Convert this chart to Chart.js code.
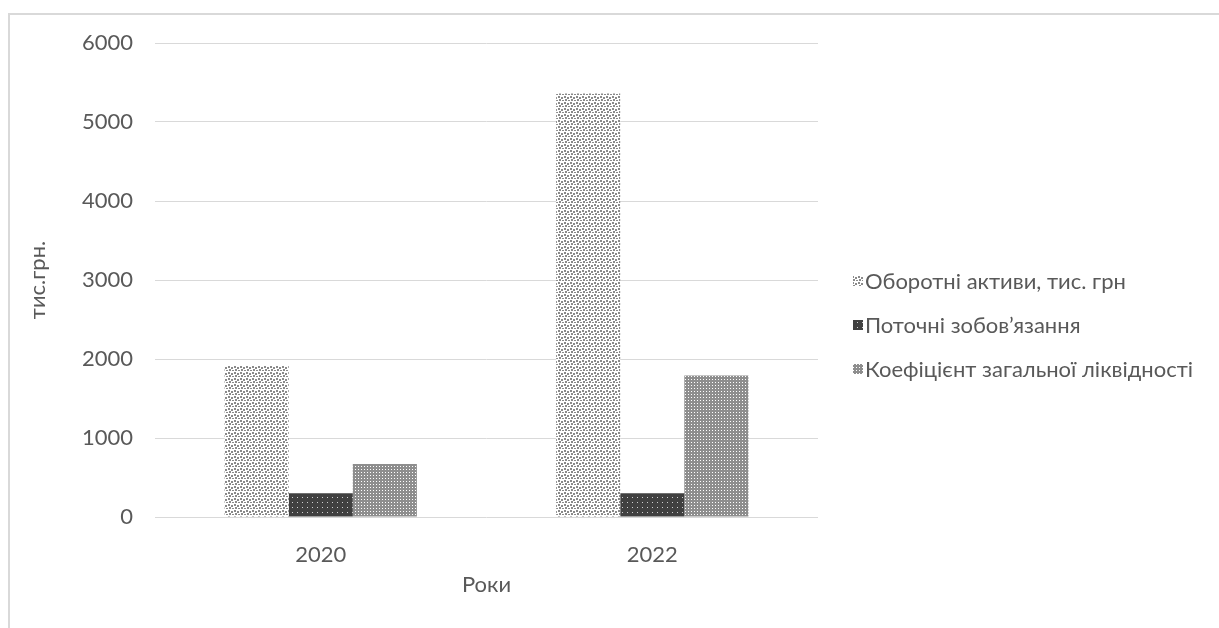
<!DOCTYPE html>
<html>
<head>
<meta charset="utf-8">
<script src="https://cdn.jsdelivr.net/npm/chart.js@4/dist/chart.umd.min.js"></script>
<style>
  html, body { margin: 0; padding: 0; background: #ffffff; }
  #wrap { width: 1219px; height: 628px; position: relative; }
  canvas { display: block; }
</style>
</head>
<body>
<div id="wrap"><canvas id="chart" width="1219" height="628"></canvas></div>
<script>
// Роки та показники (тис. грн)
const years = ['2020', '2022'];
const seriesNames = [
  'Оборотні активи, тис. грн',
  'Поточні зобов’язання',
  'Коефіцієнт загальної ліквідності'
];
const currentAssets = [1920, 5360];
const currentLiabilities = [300, 300];
const liquidityRatio = [670, 1790];
const yTicks = [0, 1000, 2000, 3000, 4000, 5000, 6000];

const FONT = 'Lato, "DejaVu Sans", sans-serif';
const TEXT = '#595959';
const SIZE = 22;

// Small tiled fills in the style of office hatch patterns
function makePattern(w, h, bg, fg, cells) {
  const c = document.createElement('canvas');
  c.width = w; c.height = h;
  const g = c.getContext('2d');
  g.fillStyle = bg; g.fillRect(0, 0, w, h);
  g.fillStyle = fg;
  cells.forEach(([x, y, cw, ch]) => g.fillRect(x, y, cw, ch));
  return g.createPattern(c, 'repeat');
}
const ctx = document.getElementById('chart').getContext('2d');
const dotsLight = makePattern(6, 6, '#ffffff', '#8a8a8a',
  [[0, 0, 2, 2], [3, 1, 2, 2], [1, 3, 2, 2], [4, 4, 2, 1]]);
const dotsDark = makePattern(5, 5, '#404040', '#cfcfcf',
  [[2, 2, 1, 1]]);
const fineGrid = makePattern(3, 3, '#8e8e8e', '#ffffff',
  [[1, 1, 1, 1]]);
const fills = [dotsLight, dotsDark, fineGrid];

// Frame around the chart (left and top edges)
const framePlugin = {
  id: 'frame',
  beforeDraw(chart) {
    const g = chart.ctx;
    g.save();
    g.fillStyle = '#d9d9d9';
    g.fillRect(8, 13, 2, 615);
    g.fillRect(8, 13, 1211, 2);
    g.restore();
  }
};

// Legend listed on the right with small square markers
const sideLegend = {
  id: 'sideLegend',
  afterDraw(chart) {
    const g = chart.ctx;
    const x0 = 853, y0 = 281, step = 44;
    g.save();
    g.font = SIZE + 'px ' + FONT;
    g.textBaseline = 'middle';
    chart.data.datasets.forEach((ds, i) => {
      const y = y0 + i * step;
      g.fillStyle = ds.backgroundColor;
      g.fillRect(x0, y - 5, 10, 10);
      g.fillStyle = TEXT;
      g.fillText(ds.label, x0 + 12, y + 1);
    });
    g.restore();
  }
};

new Chart(ctx, {
  type: 'bar',
  data: {
    labels: years,
    datasets: [
      { label: seriesNames[0], data: currentAssets, backgroundColor: fills[0] },
      { label: seriesNames[1], data: currentLiabilities, backgroundColor: fills[1] },
      { label: seriesNames[2], data: liquidityRatio, backgroundColor: fills[2] }
    ]
  },
  options: {
    responsive: false,
    animation: false,
    events: [],
    layout: { padding: { left: 0, top: 43, right: 401, bottom: 0 } },
    datasets: {
      bar: { categoryPercentage: 0.58, barPercentage: 1.0, borderWidth: 0 }
    },
    plugins: {
      legend: { display: false },
      tooltip: { enabled: false }
    },
    scales: {
      x: {
        grid: { display: false },
        border: { display: false },
        ticks: { color: TEXT, font: { family: FONT, size: SIZE }, padding: 17 },
        title: {
          display: true, text: 'Роки', color: TEXT,
          font: { family: FONT, size: SIZE }, padding: { top: 0, bottom: 30 }
        },
        afterFit(scale) { scale.height = 111; }
      },
      y: {
        min: 0, max: 6000,
        afterBuildTicks(scale) { scale.ticks = yTicks.map(v => ({ value: v })); },
        grid: { color: '#d9d9d9', lineWidth: 1, drawTicks: false },
        border: { display: false },
        ticks: {
          color: TEXT, font: { family: FONT, size: SIZE }, padding: 22,
          callback: v => String(v)
        },
        title: {
          display: true, text: 'тис.грн.', color: TEXT,
          font: { family: FONT, size: SIZE }, padding: { top: 25, bottom: 0 }
        },
        afterFit(scale) { scale.width = 155; }
      }
    }
  },
  plugins: [framePlugin, sideLegend]
});
</script>
</body>
</html>
